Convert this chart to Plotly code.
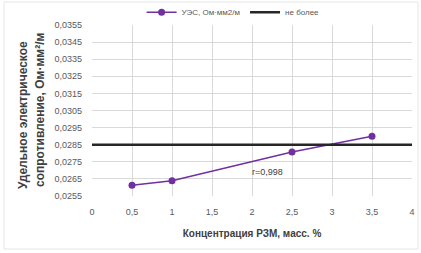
import plotly.graph_objects as go

conc = [0.5, 1.0, 2.5, 3.5]
ues = [0.02613, 0.02639, 0.02807, 0.02900]
limit_x = [0, 4]
limit_y = [0.0285, 0.0285]
x_ticks = [0, 0.5, 1, 1.5, 2, 2.5, 3, 3.5, 4]
series_name = "УЭС, Ом·мм2/м"
limit_name = "не более"
annot_text = "r=0,998"
y_title_lines = ["Удельное электрическое", "сопротивление, Ом·мм²/м"]

fig = go.Figure()
fig.add_trace(go.Scatter(
    x=conc, y=ues, name=series_name, mode="lines+markers",
    line=dict(color="#7030A0", width=1.5),
    marker=dict(color="#7030A0", size=7),
))
fig.add_trace(go.Scatter(
    x=limit_x, y=limit_y, name=limit_name, mode="lines",
    line=dict(color="#262626", width=2.5),
))

fig.add_annotation(x=2.19, y=0.0269, text=annot_text, showarrow=False,
                   font=dict(family="Liberation Sans", size=9, color="#404040"))

for txt, xp, yp in [(y_title_lines[0], -69/320, 0.474), (y_title_lines[1], -52/320, 0.503)]:
    fig.add_annotation(xref="paper", yref="paper", x=xp, y=yp, text="<b>" + txt + "</b>",
                       textangle=-90, showarrow=False, xanchor="center", yanchor="middle",
                       font=dict(family="Liberation Sans", size=12, color="#404040"))

fig.add_shape(type="rect", xref="paper", yref="paper",
              x0=-88/320, x1=1 + 6/320, y0=-53/171, y1=1 + 23/171,
              line=dict(color="#e6e6e6", width=1), fillcolor="rgba(0,0,0,0)", layer="below")

fig.update_layout(
    width=421, height=253,
    margin=dict(l=92, r=9, t=25, b=57, autoexpand=False),
    paper_bgcolor="white", plot_bgcolor="white",
    separators=", ",
    font=dict(family="Liberation Sans", size=9, color="#595959"),
    showlegend=True,
    legend=dict(orientation="h", x=0.155, y=0.99, xanchor="left", yanchor="bottom",
                font=dict(size=8, color="#595959"), bgcolor="rgba(0,0,0,0)",
                itemwidth=30),
    xaxis=dict(range=[0, 4], tickmode="array", tickvals=x_ticks, showgrid=True, gridcolor="#d9d9d9",
               zeroline=False, showline=False, ticks="", ticklabelstandoff=9,
               ticklabeloverflow="allow",
               tickfont=dict(size=9, color="#595959"),
               title=dict(text="<b>Концентрация РЗМ, масс. %</b>",
                          font=dict(size=10, color="#404040"), standoff=13)),
    yaxis=dict(range=[0.0255, 0.0355], tick0=0.0255, dtick=0.001, tickformat=".4f",
               showgrid=True, gridcolor="#d9d9d9", zeroline=False, showline=False, ticks="",
               ticklabelstandoff=9,
               tickfont=dict(size=9, color="#595959")),
)

fig.write_html("out.html", config={"displayModeBar": False},
               post_script="document.body.style.margin='0';")
